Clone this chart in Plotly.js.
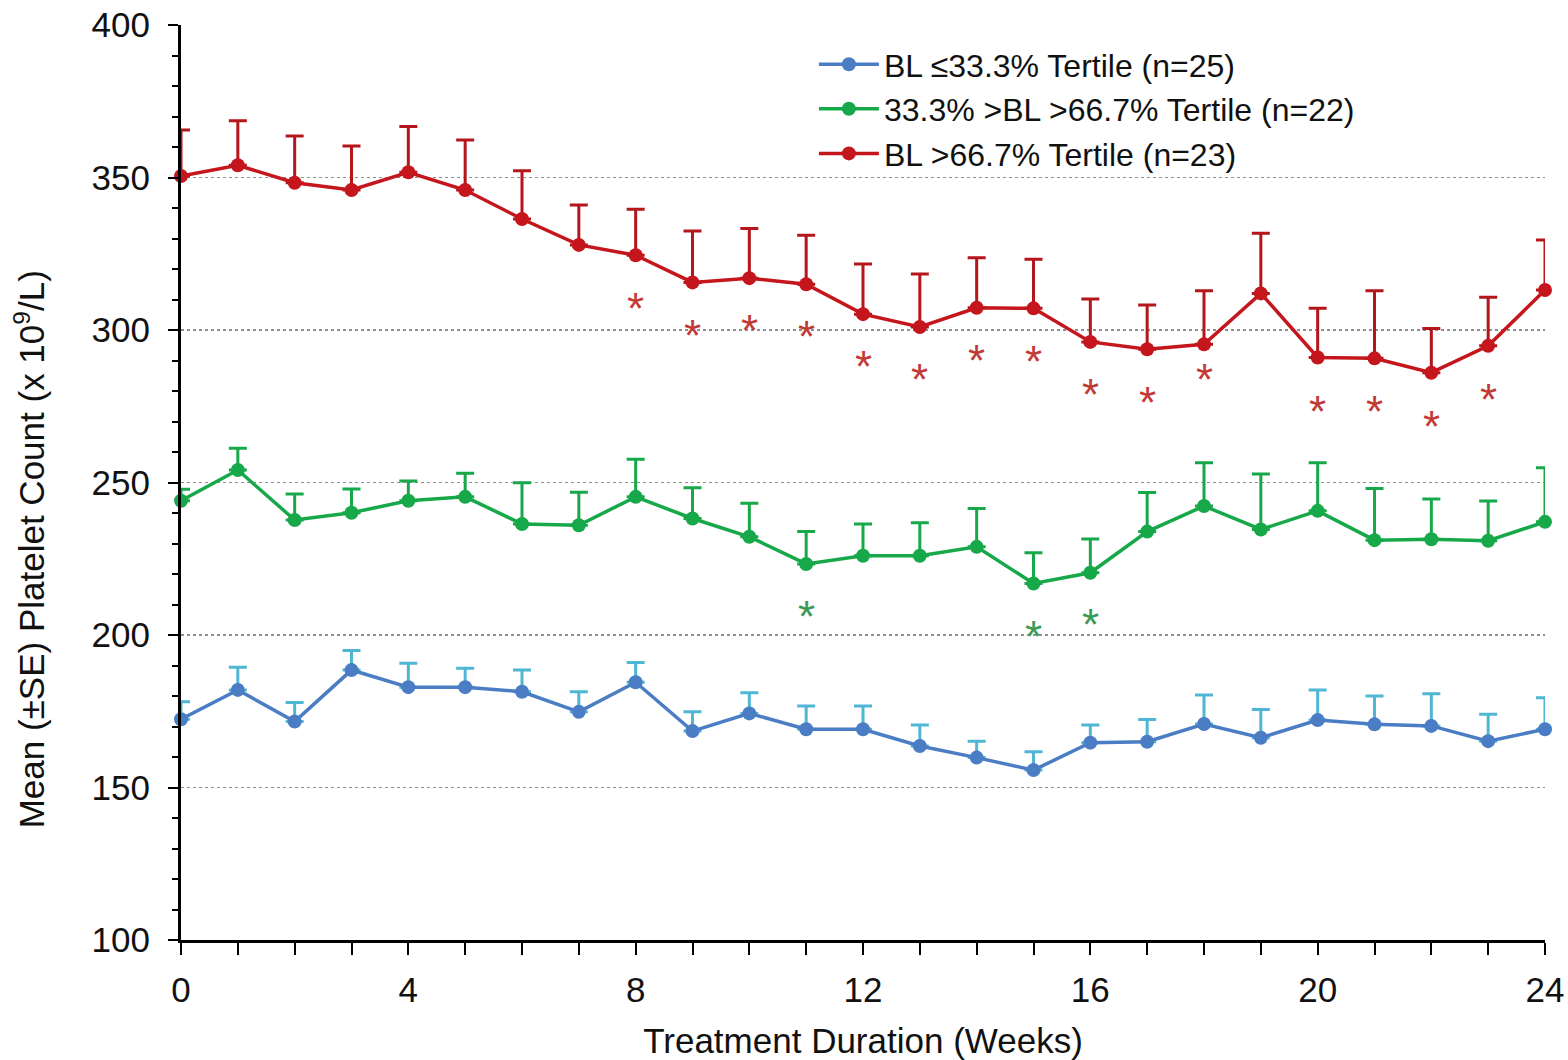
<!DOCTYPE html>
<html>
<head>
<meta charset="utf-8">
<script src="https://cdn.plot.ly/plotly-3.0.1.min.js"></script>
<style>html,body{margin:0;padding:0;background:#fff}#chart{width:1568px;height:1060px}</style>
</head>
<body>
<div id="chart"></div>
<script>
// Weeks
const weeks = [0,1,2,3,4,5,6,7,8,9,10,11,12,13,14,15,16,17,18,19,20,21,22,23,24];

// Series means (x10^9/L)
const lowMean  = [172.4,182.0,171.6,188.5,182.9,182.9,181.4,174.8,184.5,168.5,174.3,169.1,169.1,163.6,159.8,155.7,164.7,165.0,170.8,166.3,172.1,170.7,170.2,165.2,169.1];
const lowSE    = [5.7,7.4,6.3,6.4,7.8,6.2,7.1,6.6,6.5,6.3,6.8,7.6,7.6,6.9,5.4,6.0,5.8,7.3,9.5,9.3,9.9,9.3,10.5,8.8,10.3];

const midMean  = [244.0,254.1,237.7,240.1,244.0,245.3,236.4,236.0,245.3,238.2,232.2,223.3,226.0,226.0,228.9,216.9,220.4,233.9,242.3,234.6,240.7,231.1,231.4,230.9,237.1];
const midSE    = [3.8,7.1,8.5,7.8,6.5,7.7,13.5,10.8,12.3,10.1,11.0,10.6,10.4,10.8,12.6,10.1,11.1,12.8,14.2,18.2,15.8,16.9,13.2,13.0,17.7];

const highMean = [350.5,354.0,348.3,345.9,351.7,345.9,336.4,327.9,324.5,315.6,317.0,315.0,305.2,301.0,307.3,307.1,296.1,293.7,295.3,312.0,291.0,290.7,286.0,294.8,313.1];
const highSE   = [15.1,14.6,15.3,14.4,15.0,16.4,15.8,13.1,15.1,16.9,16.3,16.1,16.4,17.4,16.4,16.1,14.1,14.5,17.6,19.7,16.1,22.2,14.5,15.9,16.4];

// Significance markers (*) : week and vertical position
const highStarWeeks = [8,9,10,11,12,13,14,15,16,17,18,20,21,22,23];
const highStarY     = [310.2,301.6,303.0,301.0,291.2,286.9,293.4,292.9,282.0,279.4,286.9,276.7,276.7,271.8,280.6];
const midStarWeeks  = [11,15,16];
const midStarY      = [209.3,202.7,206.6];

const seriesNames = ["BL \u226433.3% Tertile (n=25)","33.3% >BL >66.7% Tertile (n=22)","BL >66.7% Tertile (n=23)"];
const lineColors  = ["#4a7dc4","#17a84a","#c4161c"];
const errColors   = ["#4fb6d4","#17a84a","#b5161c"];
const starColors  = ["#c23a36","#3a9a55"];
const yTitle = 'Mean (\u00b1SE) Platelet Count (x 10<sup>9</sup>/L)';
const xTitle = 'Treatment Duration (Weeks)';

const FONT = 'Liberation Sans, Arial, sans-serif';
const zeros = weeks.map(() => 0);
function mk(mean, se, i) {
  return {
    x: weeks, y: mean, type: 'scatter', mode: 'lines+markers', name: seriesNames[i],
    line: {color: lineColors[i], width: 3.5},
    marker: {color: lineColors[i], size: 14},
    error_y: {type: 'data', symmetric: false, array: se, arrayminus: zeros, color: errColors[i], thickness: 3, width: 9},
    cliponaxis: false
  };
}
const data = [mk(lowMean, lowSE, 0), mk(midMean, midSE, 1), mk(highMean, highSE, 2)];

const annotations = [];
highStarWeeks.forEach((w, k) => annotations.push({x: w, y: highStarY[k], xref: 'x', yref: 'y', text: '*', showarrow: false, yshift: -10, font: {family: FONT, size: 44, color: starColors[0]}}));
midStarWeeks.forEach((w, k) => annotations.push({x: w, y: midStarY[k], xref: 'x', yref: 'y', text: '*', showarrow: false, yshift: -10, font: {family: FONT, size: 44, color: starColors[1]}}));
annotations.push({xref: 'paper', yref: 'paper', x: -0.1107, y: 0.427, xanchor: 'center', yanchor: 'middle', textangle: -90, showarrow: false, text: yTitle, font: {family: FONT, size: 35, color: '#111'}});

const layout = {
  width: 1568, height: 1060,
  margin: {l: 181, r: 23, t: 25, b: 120},
  paper_bgcolor: '#fff', plot_bgcolor: '#fff',
  font: {family: FONT, color: '#111'},
  showlegend: true,
  legend: {x: 0.464, y: 0.987, xanchor: 'left', yanchor: 'top', bgcolor: 'rgba(0,0,0,0)', font: {family: FONT, size: 32, color: '#111'}, tracegroupgap: 0, itemwidth: 60},
  xaxis: {
    range: [0, 24], tickmode: 'linear', tick0: 0, dtick: 4,
    ticks: 'outside', ticklen: 12, tickwidth: 2, tickcolor: '#000',
    minor: {dtick: 1, ticks: 'outside', ticklen: 12, tickwidth: 2, tickcolor: '#000', showgrid: false},
    showline: true, linecolor: '#000', linewidth: 3, showgrid: false, zeroline: false,
    tickfont: {family: FONT, size: 35, color: '#111'}, ticklabelstandoff: 5,
    title: {text: xTitle, font: {family: FONT, size: 35, color: '#111'}, standoff: 23}
  },
  yaxis: {
    range: [100, 400], tickmode: 'linear', tick0: 100, dtick: 50,
    ticks: 'outside', ticklen: 10, tickwidth: 2, tickcolor: '#000',
    minor: {dtick: 10, ticks: 'outside', ticklen: 6, tickwidth: 2, tickcolor: '#000', showgrid: false},
    showline: true, linecolor: '#000', linewidth: 3, zeroline: false,
    showgrid: true, gridcolor: '#8f8f8f', gridwidth: 1.5, griddash: 'dot',
    tickfont: {family: FONT, size: 35, color: '#111'}, ticklabelstandoff: 11
  },
  annotations: annotations
};
Plotly.newPlot('chart', data, layout, {displayModeBar: false, staticPlot: true});
</script>
</body>
</html>
